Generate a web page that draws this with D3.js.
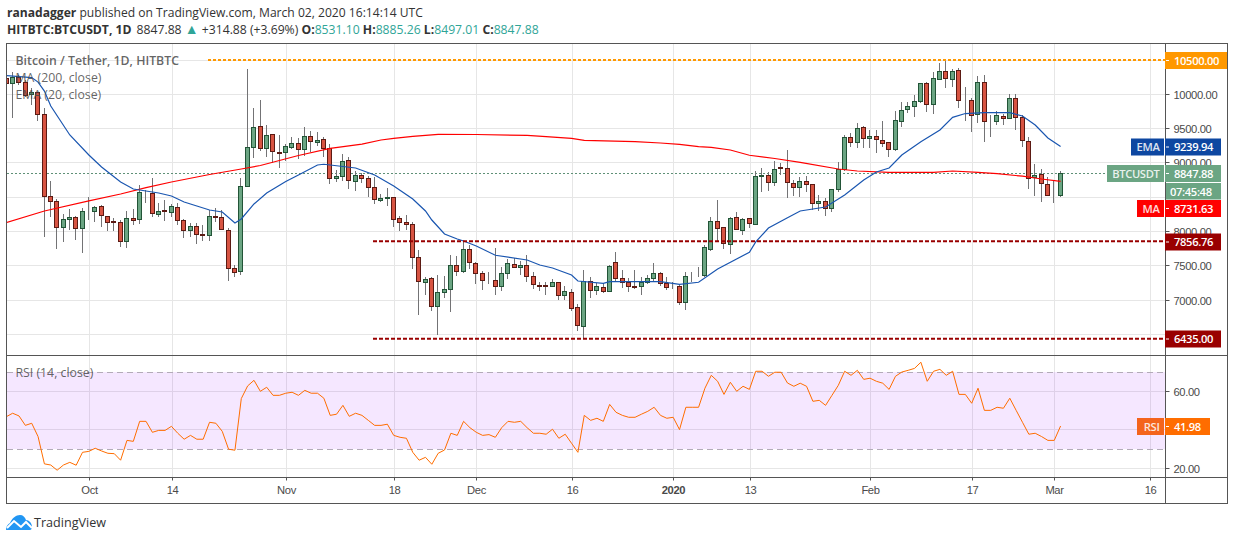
<!DOCTYPE html>
<html>
<head>
<meta charset="utf-8">
<title>BTCUSDT</title>
<script src="https://cdn.jsdelivr.net/npm/d3@7"></script>
<style>
  html, body { margin: 0; padding: 0; background: #fff; }
  svg { display: block; font-family: "Open Sans", sans-serif; }
  .axis text { fill: #4a4a4a; font-size: 11.2px; letter-spacing: -0.35px; }
  .axis line { stroke: #555; }
  .tag { font-size: 11.2px; font-weight: 600; fill: #fff; letter-spacing: -0.35px; }
</style>
</head>
<body>
<svg id="chart" width="1234" height="541"></svg>
<script>
// daily candles, first one is 2019-09-18
const firstDay = new Date(Date.UTC(2019, 8, 18));

const opens = [10239,10162,10249,10176,10001,10024,9710,8514,8441,8056,8173,8208,8042,
  8292,8289,8368,8222,8150,8135,7852,8193,8173,8572,8558,8246,8310,8275,8354,8164,8018,8077,7964,7940,8222,8208,8018,7464,7415,8654,9228,9535,9214,9418,9155,
  9155,9228,9287,9199,9389,9301,9345,9208,8771,8800,9039,8727,8820,8776,8645,8464,8485,8499,8193,8135,8106,7625,7254,7318,6904,7108,7152,7508,7415,7741,
  7537,7391,7286,7289,7196,7386,7523,7479,7508,7348,7211,7211,7196,7260,7065,7114,6896,6613,7275,7148,7187,7123,7552,7318,7260,7202,7196,7254,7313,7391,7246,
  7192,7202,6963,7343,7343,7362,7746,8150,8062,7814,8208,8012,8193,8100,8806,8820,8712,8927,8922,8704,8640,8733,8689,8406,8441,8333,8610,8902,9374,9295,9520,
  9354,9389,9330,9301,9193,9602,9782,9826,9893,10162,9855,10224,10336,10220,10351,9909,9914,9710,10176,9590,9602,9680,9651,9943,9666,9316,8785,8835,8689,
  8533,8531.10];
const highs = [10268,10331,10283,10210,10089,10035,9801,8737,8475,8256,8329,8227,8348,
  8499,8373,8387,8231,8193,8168,8300,8329,8679,8606,8776,8421,8460,8402,8421,8179,8129,8120,8096,8314,8339,8314,8047,7512,8776,10370,9801,9918,9554,9422,9408,
  9276,9379,9360,9520,9466,9451,9374,9276,8897,9131,9083,8878,8849,8810,8800,8548,8630,8499,8227,8241,8139,7731,7333,7333,7367,7352,7658,7644,7867,7804,
  7552,7425,7406,7756,7479,7595,7610,7575,7658,7406,7269,7269,7308,7269,7206,7158,6939,7439,7342,7254,7250,7512,7702,7439,7318,7439,7342,7367,7542,7406,7333,
  7265,7221,7406,7406,7488,7804,8217,8460,8066,8208,8281,8193,8198,8887,8922,8873,9029,8995,9196,8752,8800,8810,8693,8533,8485,8620,9018,9408,9441,9578,9539,
  9481,9481,9612,9306,9762,9893,9885,9991,10166,10176,10322,10453,10501,10370,10380,10112,9943,10268,10283,9699,9758,9710,10001,10001,9699,9374,8985,8908,8800,
  8752,8885.26];
const lows = [10122,9652,10137,9962,9845,9616,7925,8217,7750,7852,8018,7877,7692,
  8168,8144,8062,8003,8008,7779,7765,8096,8110,8421,8217,8217,8158,8217,8096,7910,7925,7823,7867,7867,8144,8018,7283,7342,7367,8645,9077,9179,9091,9000,8931,
  9029,9199,9062,9102,9160,9252,9091,8698,8727,8741,8616,8596,8712,8499,8397,8435,8377,8062,8012,8023,7449,6783,7075,6846,6492,7031,6832,7352,7400,7449,
  7235,7148,7235,7075,7138,7308,7473,7367,7269,7162,7138,7075,7187,7002,7002,6846,6550,6429,7036,7075,7109,7123,7279,7173,7123,7158,7075,7235,7269,7206,7148,
  7162,6929,6856,7265,7337,7342,7721,7852,7741,7673,8018,7950,8056,8097,8581,8596,8664,8825,8494,8518,8508,8581,8314,8300,8231,8289,8581,8887,9237,9214,9214,
  9214,9150,9228,9091,9179,9529,9733,9666,9870,9747,9710,10220,10089,10112,9797,9612,9456,9587,9310,9383,9554,9554,9648,9481,9237,8616,8523,8435,8529,
  8421,8497.01];
const closes = [10166,10249,10176,9991,10030,9710,8508,8435,8056,8179,8208,8042,8295,
  8295,8354,8231,8129,8129,7852,8193,8158,8572,8565,8260,8295,8289,8358,8164,8018,8077,7960,7956,8222,8202,8027,7458,7400,8660,9228,9520,9214,9403,9170,9135,
  9243,9287,9199,9389,9316,9330,9214,8776,8806,9024,8747,8820,8771,8645,8464,8489,8499,8179,8135,8106,7625,7275,7304,6904,7114,7158,7508,7415,7741,7546,
  7386,7283,7292,7196,7391,7537,7473,7508,7342,7225,7196,7196,7260,7065,7129,6875,6627,7275,7138,7202,7123,7493,7313,7254,7196,7192,7260,7318,7391,7240,7181,
  7197,6963,7348,7348,7349,7770,8150,8042,7823,8193,8027,8179,8114,8806,8817,8712,8908,8918,8712,8640,8733,8683,8406,8441,8333,8616,8902,9374,9301,9505,9354,
  9389,9345,9287,9193,9622,9768,9826,9899,10162,9855,10234,10336,10234,10336,9914,9914,9695,10176,9602,9594,9695,9651,9943,9666,9330,8776,8820,8704,8529,
  8526,8847.88];

// RSI (14), one reading per candle
const rsiValues = [46.8,48.6,47.2,42.3,43.4,36.5,22.3,21.7,19.0,21.7,23.1,21.6,28.3,
  28.8,30.4,29.0,27.8,27.6,24.2,34.5,34.0,44.4,44.4,38.7,39.7,39.7,41.8,38.2,35.1,37.1,35.1,35.1,43.9,43.4,39.2,29.9,29.4,56.2,62.8,65.7,60.0,62.1,57.9,57.9,
  59.0,59.5,57.9,60.5,59.0,59.0,56.4,47.5,48.1,52.7,47.0,48.6,47.5,44.9,42.3,42.3,42.9,37.1,36.1,35.6,28.3,24.2,25.7,22.1,27.8,29.5,38.2,37.1,44.4,41.1,
  38.7,37.1,37.5,36.1,41.1,44.4,43.9,44.4,41.1,38.2,38.2,37.7,40.3,35.6,37.7,33.0,28.3,47.5,44.9,46.0,44.4,53.2,49.1,47.5,46.5,46.5,48.1,49.6,51.7,47.5,46.0,
  46.5,40.1,51.7,51.7,51.7,61.6,68.3,65.2,58.4,64.7,60.0,62.6,61.0,70.4,70.4,67.8,69.9,69.9,64.3,62.6,64.2,62.6,54.8,55.3,52.7,57.9,63.1,70.4,68.3,70.9,66.2,
  66.8,65.2,64.2,61.0,67.8,70.0,70.9,71.9,75.1,65.2,70.4,71.4,68.3,70.4,58.4,58.4,53.8,61.6,50.1,50.1,51.7,51.2,56.4,50.1,43.9,37.7,38.2,36.5,34.5,
  34.5,41.98];

// EMA 20, read where the line bends (day = candles since firstDay)
const emaDays = [0,4,5,6,7,10,13,15,18,20,22,24,26,28,30,32,34,36,37,39,41,44,46,49,50,51,55,58,61,64,66,67,69,71,72,74,77,82,84,86,89,90,94,95,103,106,109,112,117,118,120,123,125,129,132,135,137,139,141,144,147,149,151,154,158,160,162,164,166];
const emaValues = [10275,10246,10180,10049,9831,9408,9116,8941,8722,8620,8591,8562,8518,8431,8373,8314,8285,8125,8183,8402,8562,8730,8825,8970,8981,8970,8927,8825,8664,8475,8300,8168,7964,7891,7862,7789,7654,7585,7512,7469,7366,7279,7245,7269,7269,7231,7260,7454,7698,7848,8052,8202,8300,8358,8533,8752,8868,8927,9116,9310,9481,9666,9721,9733,9733,9685,9554,9364,9239.94];

// MA 200
const maDays = [0,6,13,18,22,26,32,37,40,46,51,56,59,61,64,68,74,82,85,89,91,99,103,106,109,111,114,117,121,125,131,134,139,146,149,153,156,160,163,166];
const maValues = [8129,8300,8446,8548,8640,8723,8832,8912,8963,9109,9214,9276,9335,9360,9389,9418,9415,9403,9383,9360,9330,9310,9291,9272,9237,9228,9189,9113,9065,9010,8912,8883,8864,8864,8883,8864,8844,8807,8766,8731.63];

const priceGrid = [10000,9500,9000,8500,8000,7500,7000,6500];
// 8500 and 6500 sit under the price tags, the reference shows no label for them
const priceLabels = [10000,9500,9000,8000,7500,7000];
const rsiGrid = [60,40,20];
const rsiLabels = [60,20];
const timeTicks = ['2019-10-01','2019-10-14','2019-11-01','2019-11-18','2019-12-01','2019-12-16','2020-01-01','2020-01-13','2020-02-01','2020-02-17','2020-03-01','2020-03-16'];
const timeLabels = ['Oct','14','Nov','18','Dec','16','2020','13','Feb','17','Mar','16'];

const lastPrice = 8847.88, resistance = 10500, support = [7856.76, 6435];
const emaLast = 9239.94, maLast = 8731.63, rsiLast = 41.98;

const svg = d3.select('#chart');
const paneLeft = 6.5, paneRight = 1165.5, paneTop = 43.5, sep = 355.5, paneBottom = 477.5, frameBottom = 503.5, outerRight = 1227.5;

const dayAt = i => d3.utcDay.offset(firstDay, i);
const x = d3.scaleUtc().domain([firstDay, dayAt(166)]).range([6, 1060.3]);
const xTick = x.copy().range([7, 1061.3]);
const y = d3.scaleLinear().domain([6500, 10000]).range([334.4, 94.4]);
const yRsi = d3.scaleLinear().domain([20, 60]).range([468.3, 391.3]);
const snap = v => Math.floor(v) + 0.5;
const parse = d3.utcParse('%Y-%m-%d');

svg.append('defs').append('clipPath').attr('id', 'pane')
  .append('rect').attr('x', 7).attr('y', 44).attr('width', paneRight - 7).attr('height', sep - 44);

// grids
const gridColor = '#e6e6e6';
const grid = svg.append('g').attr('stroke', gridColor).attr('shape-rendering', 'crispEdges');
timeTicks.forEach(d => {
  const px = snap(xTick(parse(d)));
  grid.append('line').attr('x1', px).attr('x2', px).attr('y1', paneTop).attr('y2', paneBottom);
});
[resistance].concat(priceGrid).forEach(p => {
  grid.append('line').attr('x1', paneLeft).attr('x2', paneRight).attr('y1', snap(y(p))).attr('y2', snap(y(p)));
});
rsiGrid.forEach(p => {
  grid.append('line').attr('x1', paneLeft).attr('x2', paneRight).attr('y1', snap(yRsi(p))).attr('y2', snap(yRsi(p)));
});

// last price line
svg.append('line').attr('x1', paneLeft).attr('x2', 1107).attr('y1', snap(y(lastPrice))).attr('y2', snap(y(lastPrice)))
  .attr('stroke', '#5f9077').attr('stroke-dasharray', '2,2').attr('shape-rendering', 'crispEdges');

// candles
const candles = d3.range(opens.length).map(i => ({
  date: dayAt(i), o: opens[i], h: highs[i], l: lows[i], c: closes[i]
}));
const cg = svg.append('g').attr('clip-path', 'url(#pane)').attr('shape-rendering', 'crispEdges');
const bar = cg.selectAll('g').data(candles).join('g');
bar.append('line')
  .attr('x1', d => snap(x(d.date))).attr('x2', d => snap(x(d.date)))
  .attr('y1', d => Math.round(y(d.h))).attr('y2', d => Math.round(y(d.l)))
  .attr('stroke', '#737375');
bar.append('rect')
  .attr('x', d => snap(x(d.date)) - 2)
  .attr('y', d => snap(y(Math.max(d.o, d.c))))
  .attr('width', 4)
  .attr('height', d => Math.max(0, Math.round(y(Math.min(d.o, d.c)) - y(Math.max(d.o, d.c)))))
  .attr('fill', d => d.c >= d.o ? '#6ba583' : '#d75442')
  .attr('stroke', d => d.c >= d.o ? '#225437' : '#5b1a13');

// moving averages
const clipLines = svg.append('g').attr('clip-path', 'url(#pane)').attr('fill', 'none');
const priceLine = d3.line().x(d => x(dayAt(d[0])) + 0.3).y(d => y(d[1]));
clipLines.append('path').attr('d', priceLine(d3.zip(maDays, maValues))).attr('stroke', '#ff0000').attr('stroke-width', 1.2);
clipLines.append('path').attr('d', priceLine(d3.zip(emaDays, emaValues))).attr('stroke', '#1a56b0').attr('stroke-width', 1.2);

// drawn levels
svg.append('line').attr('x1', 208).attr('x2', paneRight).attr('y1', y(resistance)).attr('y2', y(resistance))
  .attr('stroke', '#ff9800').attr('stroke-width', 2).attr('stroke-dasharray', '3,2');
support.forEach(p => {
  svg.append('line').attr('x1', 373).attr('x2', paneRight).attr('y1', y(p)).attr('y2', y(p))
    .attr('stroke', '#990000').attr('stroke-width', 2).attr('stroke-dasharray', '4,2');
});

// RSI pane
svg.append('rect').attr('x', paneLeft).attr('width', paneRight - paneLeft)
  .attr('y', yRsi(70)).attr('height', yRsi(30) - yRsi(70))
  .attr('fill', 'rgb(153,21,255)').attr('fill-opacity', 0.1);
[70, 30].forEach(p => {
  svg.append('line').attr('x1', paneLeft).attr('x2', paneRight).attr('y1', snap(yRsi(p))).attr('y2', snap(yRsi(p)))
    .attr('stroke', '#b3abb8').attr('stroke-dasharray', '6,4').attr('shape-rendering', 'crispEdges');
});
svg.append('path').attr('fill', 'none').attr('stroke', '#ff6d00').attr('stroke-width', 1)
  .attr('d', d3.line().x((d, i) => x(dayAt(i)) + 0.3).y(d => yRsi(d))(rsiValues));

// frame
const frame = svg.append('g').attr('stroke', '#555').attr('fill', 'none').attr('shape-rendering', 'crispEdges');
frame.append('rect').attr('x', paneLeft).attr('y', paneTop).attr('width', outerRight - paneLeft).attr('height', frameBottom - paneTop);
frame.append('line').attr('x1', paneRight).attr('x2', paneRight).attr('y1', paneTop).attr('y2', frameBottom);
frame.append('line').attr('x1', paneLeft).attr('x2', outerRight).attr('y1', sep).attr('y2', sep);
frame.append('line').attr('x1', paneLeft).attr('x2', outerRight).attr('y1', paneBottom).attr('y2', paneBottom);

// axes
const timeAxis = d3.axisBottom(xTick).tickValues(timeTicks.map(parse))
  .tickFormat((d, i) => timeLabels[i]).tickSize(3).tickPadding(6).offset(0);
const tg = svg.append('g').attr('class', 'axis').attr('transform', `translate(0,${paneBottom})`).call(timeAxis);
tg.select('.domain').remove();
tg.selectAll('.tick').attr('transform', d => `translate(${snap(xTick(d))},0)`);
tg.selectAll('text').style('font-weight', (d, i) => timeLabels[i] === '2020' ? 600 : null);

const priceAxis = d3.axisRight(y).tickValues(priceLabels).tickFormat(d3.format('.2f')).tickSize(4).tickPadding(4).offset(0);
const pg = svg.append('g').attr('class', 'axis').attr('transform', `translate(${paneRight},0)`).call(priceAxis);
pg.select('.domain').remove();
pg.selectAll('.tick').attr('transform', d => `translate(0,${snap(y(d))})`);
pg.selectAll('text').attr('dy', '0.4em');

const rsiAxis = d3.axisRight(yRsi).tickValues(rsiLabels).tickFormat(d3.format('.2f')).tickSize(4).tickPadding(4).offset(0);
const rg = svg.append('g').attr('class', 'axis').attr('transform', `translate(${paneRight},0)`).call(rsiAxis);
rg.select('.domain').remove();
rg.selectAll('.tick').attr('transform', d => `translate(0,${snap(yRsi(d))})`);
rg.selectAll('text').attr('dy', '0.4em');

// price tags on the axis
function tag(cy, label, w, color, side) {
  const g = svg.append('g');
  if (side) {
    g.append('rect').attr('x', 1165 - side.w).attr('y', cy - 8).attr('width', side.w - 1).attr('height', 17).attr('fill', side.color);
    g.append('text').attr('class', 'tag').attr('x', 1159.5).attr('y', cy + 4.5).attr('text-anchor', 'end').text(side.label).attr('opacity', 0.85);
  }
  g.append('rect').attr('x', 1165).attr('y', cy - 8).attr('width', w).attr('height', 17).attr('fill', color);
  g.append('line').attr('x1', 1166).attr('x2', 1169).attr('y1', cy + 0.5).attr('y2', cy + 0.5).attr('stroke', '#fff');
  g.append('text').attr('class', 'tag').attr('x', 1174).attr('y', cy + 4.5).text(label);
}
tag(60, resistance.toFixed(2), 62, '#ff9800');
tag(146.5, emaLast.toFixed(2), 56, '#0d47a1', { w: 34, color: '#0d47a1', label: 'EMA' });
tag(173, lastPrice.toFixed(2), 56, '#6ba583', { w: 58, color: '#6ba583', label: 'BTCUSDT' });
svg.append('rect').attr('x', 1166).attr('y', 183).attr('width', 55).attr('height', 16.5).attr('fill', '#6ba583');
svg.append('text').attr('class', 'tag').attr('x', 1170).attr('y', 195.5).text('07:45:48');
tag(208, maLast.toFixed(2), 56, '#ff0000', { w: 28, color: '#ff0000', label: 'MA' });
tag(241.5, support[0].toFixed(2), 56, '#990000');
tag(338.5, support[1].toFixed(2), 56, '#990000');
tag(426, rsiLast.toFixed(2), 45, '#ff6d00', { w: 28, color: '#f4641c', label: 'RSI' });

// legends
const legend = svg.append('g').attr('fill', '#4a4a4a').attr('fill-opacity', 0.85).style('font-size', '12.3px');
legend.append('text').attr('x', 15.5).attr('y', 65).style('font-weight', 600).text('Bitcoin / Tether, 1D, HITBTC');
legend.append('text').attr('x', 15.5).attr('y', 82).text('MA (200, close)');
legend.append('text').attr('x', 15.5).attr('y', 99).text('EMA (20, close)');
svg.append('text').attr('x', 15.5).attr('y', 377).attr('fill', '#4a4a4a').attr('fill-opacity', 0.85).style('font-size', '12.3px').text('RSI (14, close)');

// header
const line1 = svg.append('text').attr('x', 7).attr('y', 17).attr('fill', '#333').style('font-size', '12.1px');
line1.append('tspan').style('font-weight', 700).text('ranadagger');
line1.append('tspan').text(' published on TradingView.com, March 02, 2020 16:14:14 UTC');
const teal = '#2fa597';
const line2 = svg.append('text').attr('x', 7).attr('y', 34).attr('fill', '#333').style('font-size', '12.2px');
line2.append('tspan').style('font-weight', 700).text('HITBTC:BTCUSDT, 1D');
line2.append('tspan').attr('dx', 5).text('8847.88 ');
line2.append('tspan').attr('fill', teal).style('font-size', '14px').text('\u25B2');
line2.append('tspan').text(' +314.88 (+3.69%) ');
[['O:', '8531.10'], ['H:', '8885.26'], ['L:', '8497.01'], ['C:', '8847.88']].forEach(p => {
  line2.append('tspan').style('font-weight', 700).text(p[0]);
  line2.append('tspan').attr('fill', teal).text(p[1] + ' ');
});

// TradingView logo
const logo = svg.append('g').attr('transform', 'translate(6,515)');
logo.append('path').attr('fill', '#2196f3')
  .attr('d', 'M0 15 C0 11 2 9 4 8 C6 3 10 0 14 0 C17 0 19 2 20 5 C23 5 26 8 26 12 C26 14 25 15 24 15 Z');
logo.append('path').attr('fill', 'none').attr('stroke', '#fff').attr('stroke-width', 2)
  .attr('d', 'M1 13 L8 6 L15 12 L20 7 L26 13');
svg.append('text').attr('x', 34).attr('y', 527).attr('fill', '#333').style('font-size', '12.6px').text('TradingView');
</script>
</body>
</html>
